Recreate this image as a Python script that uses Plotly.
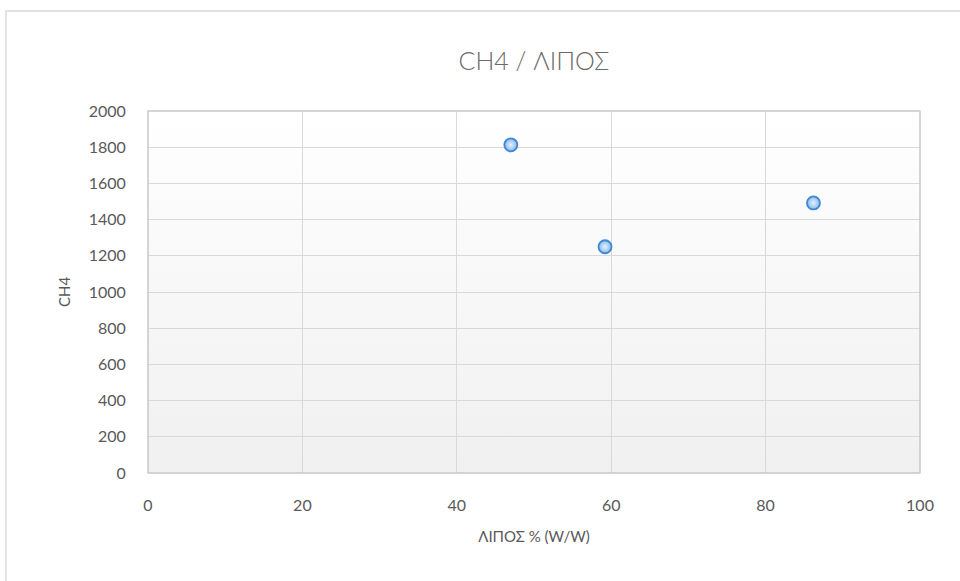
import base64
import plotly.graph_objects as go

# Data
x_lipos = [47.0, 59.2, 86.2]
y_ch4 = [1813, 1250, 1492]
x_ticks = [0, 20, 40, 60, 80, 100]
y_ticks = [0, 200, 400, 600, 800, 1000, 1200, 1400, 1600, 1800, 2000]

FONT = "Lato, 'Open Sans', sans-serif"
TXT = "#595959"

svg = ('<svg xmlns="http://www.w3.org/2000/svg" width="100" height="100" preserveAspectRatio="none">'
       '<defs><linearGradient id="g" x1="0" y1="0" x2="0" y2="1">'
       '<stop offset="0" stop-color="#ffffff"/><stop offset="1" stop-color="#f0f0f0"/>'
       '</linearGradient></defs><rect width="100" height="100" fill="url(#g)"/></svg>')
uri = "data:image/svg+xml;base64," + base64.b64encode(svg.encode()).decode()

fig = go.Figure()
fig.add_trace(go.Scatter(
    x=x_lipos, y=y_ch4, mode="markers",
    marker=dict(size=13, color="#86b9ec",
                gradient=dict(type="radial", color="#e6f1fd"),
                line=dict(color="#3f88d6", width=1.8)),
    showlegend=False,
))

fig.update_layout(
    width=960, height=581,
    margin=dict(l=148, r=40, t=111, b=108),
    paper_bgcolor="white", plot_bgcolor="rgba(0,0,0,0)",
    font=dict(family=FONT, color=TXT, size=15),
    title=dict(text="CH4 / ΛΙΠΟΣ", x=0.5, xanchor="center", xref="paper",
               y=1 - 61 / 581, yanchor="middle",
               font=dict(family=FONT, size=25, color="#6a6a6a", weight=300)),
    images=[dict(source=uri, xref="paper", yref="paper", x=0, y=1,
                 sizex=1, sizey=1, sizing="stretch", layer="below",
                 xanchor="left", yanchor="top")],
    shapes=[
        dict(type="rect", xref="paper", yref="paper", x0=-0.184, y0=-0.5,
             x1=1.2, y1=1.276, line=dict(color="#d9d9d9", width=1.5),
             fillcolor="rgba(0,0,0,0)", layer="below"),
        dict(type="rect", xref="paper", yref="paper", x0=0, y0=0, x1=1, y1=1,
             line=dict(color="#c8c8c8", width=1.5), fillcolor="rgba(0,0,0,0)",
             layer="above"),
    ],
)

fig.update_xaxes(
    range=[0, 100], tickvals=x_ticks, showgrid=True, gridcolor="#d9d9d9",
    gridwidth=1, zeroline=False, showline=False,
    ticks="outside", ticklen=18, tickcolor="rgba(0,0,0,0)",
    tickfont=dict(size=16, color=TXT),
    title=dict(text="ΛΙΠΟΣ % (W/W)", standoff=18,
               font=dict(size=15, color=TXT)),
)
fig.update_yaxes(
    range=[0, 2000], tickvals=y_ticks, showgrid=True, gridcolor="#d9d9d9",
    gridwidth=1, zeroline=False, showline=False,
    ticks="outside", ticklen=18, tickcolor="rgba(0,0,0,0)",
    tickfont=dict(size=16, color=TXT),
    title=dict(text="CH4", standoff=14, font=dict(size=15, color=TXT)),
)

fig.write_html("out.html")
